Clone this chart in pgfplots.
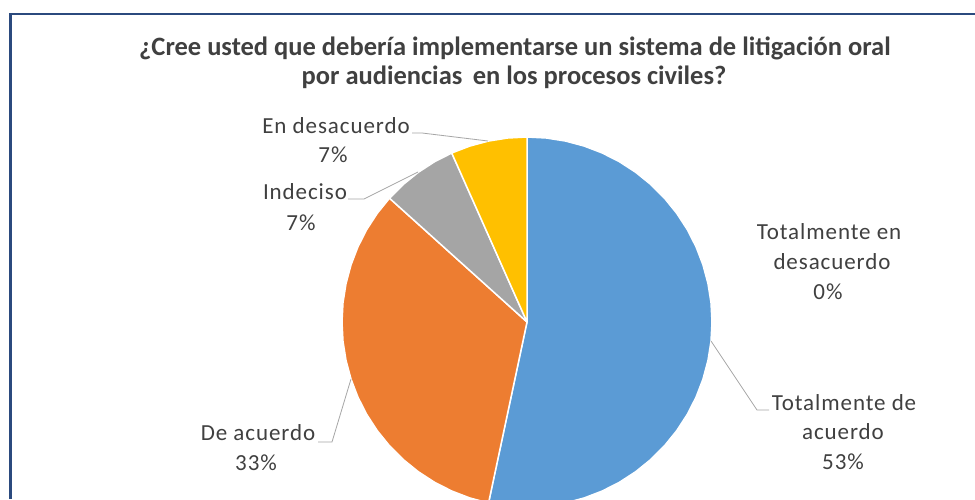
\documentclass[border=0pt]{standalone}
\usepackage{pgfplots}
\pgfplotsset{compat=1.18}
\usepgfplotslibrary{polar}
\usepackage{fontspec}
\setmainfont{Carlito}
\newfontfamily\lblfont[LetterSpace=4]{Carlito}
\definecolor{cblue}{HTML}{5B9BD5}
\definecolor{corange}{HTML}{ED7D31}
\definecolor{cgrey}{HTML}{A5A5A5}
\definecolor{cyellow}{HTML}{FFC000}
\definecolor{ctext}{HTML}{404040}
\definecolor{cline}{HTML}{A6A6A6}
\definecolor{cframe}{HTML}{2B4A7E}
\begin{document}
\begin{tikzpicture}
\clip (0,0) rectangle (975pt,499pt);
\fill[white] (0,0) rectangle (975pt,499pt);
% Shares: Totalmente de acuerdo 53% (192 deg), De acuerdo 33% (120 deg),
% Indeciso 7% (24 deg), En desacuerdo 7% (24 deg), Totalmente en desacuerdo 0%
\begin{polaraxis}[at={(527pt,177pt)}, anchor=origin, hide axis, scale only axis,
  width=370pt, height=370pt, xmin=0, xmax=360, ymin=0, ymax=1, clip=false]
\addplot[fill=cblue, draw=white, line width=1.5pt, line join=round] coordinates {
(0,0) (90,1) (84,1) (78,1) (72,1) (66,1) (60,1) (54,1) (48,1) (42,1) (36,1) (30,1)
(24,1) (18,1) (12,1) (6,1) (0,1) (354,1) (348,1) (342,1) (336,1) (330,1) (324,1)
(318,1) (312,1) (306,1) (300,1) (294,1) (288,1) (282,1) (276,1) (270,1) (264,1)
(258,1) (0,0)} -- cycle;
\addplot[fill=corange, draw=white, line width=1.5pt, line join=round] coordinates {
(0,0) (258,1) (252,1) (246,1) (240,1) (234,1) (228,1) (222,1) (216,1) (210,1)
(204,1) (198,1) (192,1) (186,1) (180,1) (174,1) (168,1) (162,1) (156,1) (150,1)
(144,1) (138,1) (0,0)} -- cycle;
\addplot[fill=cgrey, draw=white, line width=1.5pt, line join=round] coordinates {
(0,0) (138,1) (132,1) (126,1) (120,1) (114,1) (0,0)} -- cycle;
\addplot[fill=cyellow, draw=white, line width=1.5pt, line join=round] coordinates {
(0,0) (114,1) (108,1) (102,1) (96,1) (90,1) (0,0)} -- cycle;
\end{polaraxis}
\begin{scope}[shift={(0,499pt)}, yscale=-1, x=1pt, y=1pt]
\draw[cframe, line width=2.5pt] (10.5,499) -- (10.5,14) -- (980,14);
\node[anchor=base, text=ctext, font=\bfseries\fontsize{26.5}{30}\selectfont] at (515,56)
  {¿Cree usted que debería implementarse un sistema de litigación oral};
\node[anchor=base, text=ctext, font=\bfseries\fontsize{26.5}{30}\selectfont] at (514,85)
  {por audiencias\, en los procesos civiles?};
\begin{scope}[every node/.style={anchor=base, text=ctext, font=\lblfont\fontsize{23}{27}\selectfont, inner sep=0pt}]
\node at (336,134) {En desacuerdo};
\node at (333,163) {7\%};
\node at (305,200) {Indeciso};
\node at (301,230) {7\%};
\node at (829,239) {Totalmente en};
\node at (832,269) {desacuerdo};
\node at (828,299) {0\%};
\node at (844,410) {Totalmente de};
\node at (843,439) {acuerdo};
\node at (843,469) {53\%};
\node at (258,440) {De acuerdo};
\node at (256,470) {33\%};
\end{scope}
\draw[cline, line width=0.8pt] (412,133) -- (422,133) -- (488,141);
\draw[cline, line width=0.8pt] (348,199) -- (364,199) -- (418,172);
\draw[cline, line width=0.8pt] (711,341) -- (757,410) -- (769,410);
\draw[cline, line width=0.8pt] (318,442) -- (332,442) -- (351,379);
\end{scope}
\end{tikzpicture}
\end{document}
